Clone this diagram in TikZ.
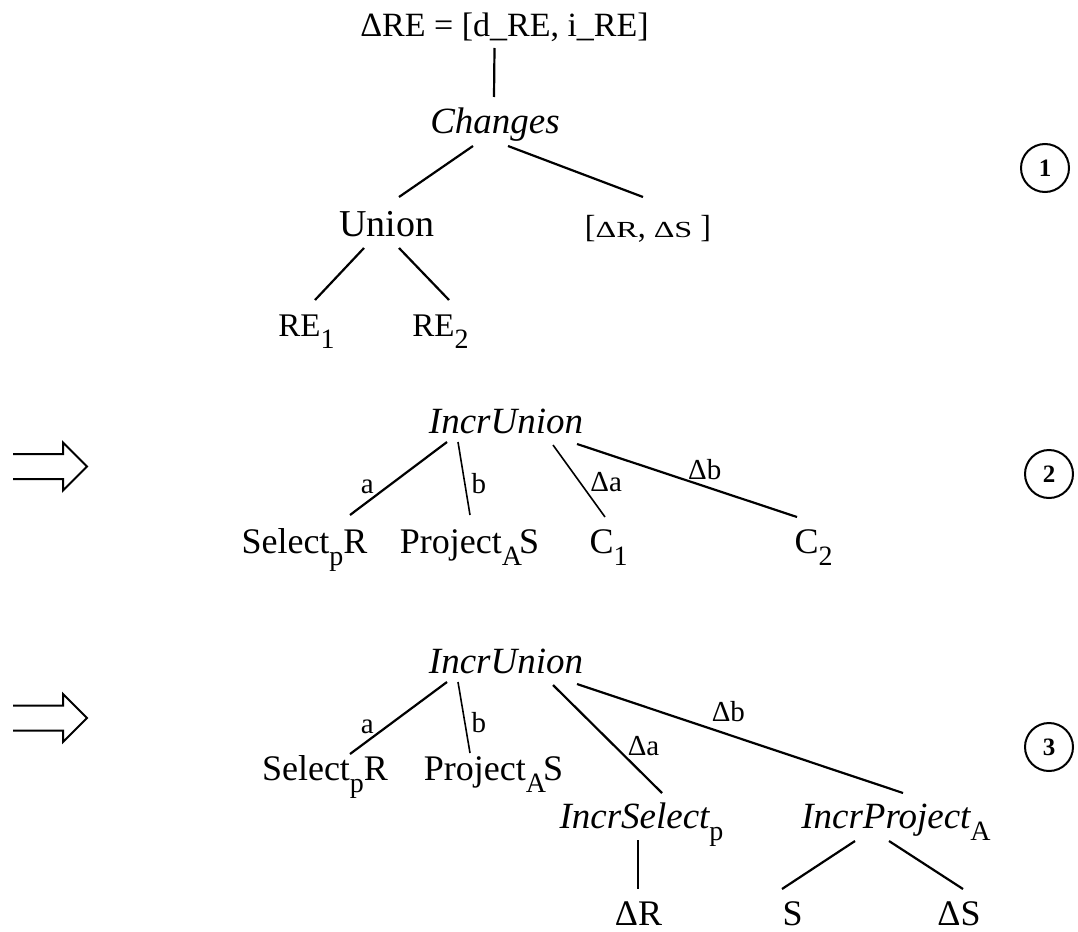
\documentclass[tikz,border=0pt]{standalone}
\usepackage{fontspec}
\setmainfont{Liberation Serif}
\usepackage{graphicx}
\usepackage{tikz}
\newcommand{\fs}[1]{\fontsize{#1}{#1}\selectfont}
\newcommand{\lowsub}[1]{\raisebox{-12pt}{\fs{28}\upshape #1}}
\tikzset{
    tree-node/.style = {inner sep=0pt, anchor=base, font=\fs{36}},
    tree-op/.style = {tree-node, font=\fs{37}\itshape},
    edge-label/.style = {inner sep=0pt, font=\fs{29}},
    tree-edge/.style = {line width=2.2pt},
    thin-edge/.style = {line width=1.6pt},
    stage-mark/.style = {draw, circle, line width=2pt, minimum size=48pt, inner sep=0pt, font=\fs{25}\bfseries},
    stage-arrow/.style = {line width=2pt, line join=miter},
}

\begin{document}
\begin{tikzpicture}[x=1pt, y=-1pt]
\useasboundingbox (0,0) rectangle (1078,931);

% stage 1
\node[tree-node, font=\fs{34}] (delta-re) at (504.5,37) {ΔRE = [d\_RE, i\_RE]};
\node[tree-op] (changes) at (495,133) {Changes};
\node[tree-node, font=\fs{38}] (union) at (387,236) {Union};
\node[tree-node, font=\fs{32}] (deltas) at (648,237) {[\scalebox{1.4}[1]{\fs{23}ΔR}, \scalebox{1.4}[1]{\fs{23}ΔS} ]};
\node[tree-node, font=\fs{33}] (re-one) at (306.5,336) {RE\lowsub{1}};
\node[tree-node, font=\fs{33}] (re-two) at (440.5,336) {RE\lowsub{2}};
\draw[tree-edge] ([shift={(-10,11)}]delta-re.base) -- ([shift={(-1,-36)}]changes.base);
\draw[tree-edge] ([shift={(-22,13)}]changes.base) -- ([shift={(12,-39)}]union.base);
\draw[tree-edge] ([shift={(13,13)}]changes.base) -- ([shift={(-5,-40)}]deltas.base);
\draw[tree-edge] ([shift={(-23,12)}]union.base) -- ([shift={(8.5,-36)}]re-one.base);
\draw[tree-edge] ([shift={(12,12)}]union.base) -- ([shift={(8.5,-36)}]re-two.base);
\node[stage-mark] (mark-one) at (1045,168) {1};

% rewrite arrows
\foreach \y in {466.5,718}
  \draw[stage-arrow] (13,\y-12.5) -- (63,\y-12.5) -- (63,\y-24) -- (87,\y)
    -- (63,\y+24) -- (63,\y+12.5) -- (13,\y+12.5);

% stage 2
\node[tree-op] (incr-union-a) at (506,433) {IncrUnion};
\node[tree-node] (select-a) at (304.5,553) {Select\lowsub{p}R};
\node[tree-node] (project-a) at (469.5,553) {Project\lowsub{A}\kern-3pt S};
\node[tree-node] (c-one) at (608.5,553) {C\lowsub{1}};
\node[tree-node] (c-two) at (813.5,553) {C\lowsub{2}};
\draw[tree-edge] ([shift={(-59,9)}]incr-union-a.base) -- node[edge-label, pos=.62, anchor=east, xshift=-12pt] {a} ([shift={(45.5,-38)}]select-a.base);
\draw[thin-edge] ([shift={(-48,9)}]incr-union-a.base) -- node[edge-label, pos=.575, anchor=west, xshift=6pt] {b} ([shift={(0.5,-38)}]project-a.base);
\draw[thin-edge] ([shift={(47,12)}]incr-union-a.base) -- node[edge-label, pos=.667, anchor=south west, xshift=2pt] {Δa} ([shift={(-3.5,-36)}]c-one.base);
\draw[tree-edge] ([shift={(71,11)}]incr-union-a.base) -- node[edge-label, pos=.5, anchor=south west] {Δb} ([shift={(-16.5,-36)}]c-two.base);
\node[stage-mark] (mark-two) at (1049,474) {2};

% stage 3
\node[tree-op] (incr-union-b) at (506,673) {IncrUnion};
\node[tree-node] (select-b) at (325,780) {Select\lowsub{p}R};
\node[tree-node] (project-b) at (493.5,780) {Project\lowsub{A}\kern-3pt S};
\node[tree-op] (incr-select) at (641.5,828) {IncrSelect\lowsub{p}};
\node[tree-op] (incr-project) at (896,828) {IncrProject\lowsub{A}};
\node[tree-node] (delta-r) at (638.5,925) {ΔR};
\node[tree-node] (rel-s) at (792.5,925) {S};
\node[tree-node] (delta-s) at (959,925) {ΔS};
\draw[tree-edge] ([shift={(-59,9)}]incr-union-b.base) -- node[edge-label, pos=.62, anchor=east, xshift=-12pt] {a} ([shift={(25,-26)}]select-b.base);
\draw[thin-edge] ([shift={(-48,9)}]incr-union-b.base) -- node[edge-label, pos=.575, anchor=west, xshift=6pt] {b} ([shift={(-23.5,-27)}]project-b.base);
\draw[tree-edge] ([shift={(47,12)}]incr-union-b.base) -- node[edge-label, pos=.667, anchor=south west, xshift=1pt] {Δa} ([shift={(20.5,-35)}]incr-select.base);
\draw[tree-edge] ([shift={(71,11)}]incr-union-b.base) -- node[edge-label, pos=.41, anchor=south west, yshift=6pt] {Δb} ([shift={(7,-35)}]incr-project.base);
\draw[thin-edge] ([shift={(-3.5,12)}]incr-select.base) -- ([shift={(-0.5,-36)}]delta-r.base);
\draw[tree-edge] ([shift={(-41,13)}]incr-project.base) -- ([shift={(-10.5,-36)}]rel-s.base);
\draw[tree-edge] ([shift={(-7,13)}]incr-project.base) -- ([shift={(4,-36)}]delta-s.base);
\node[stage-mark] (mark-three) at (1049,747) {3};
\end{tikzpicture}
\end{document}
